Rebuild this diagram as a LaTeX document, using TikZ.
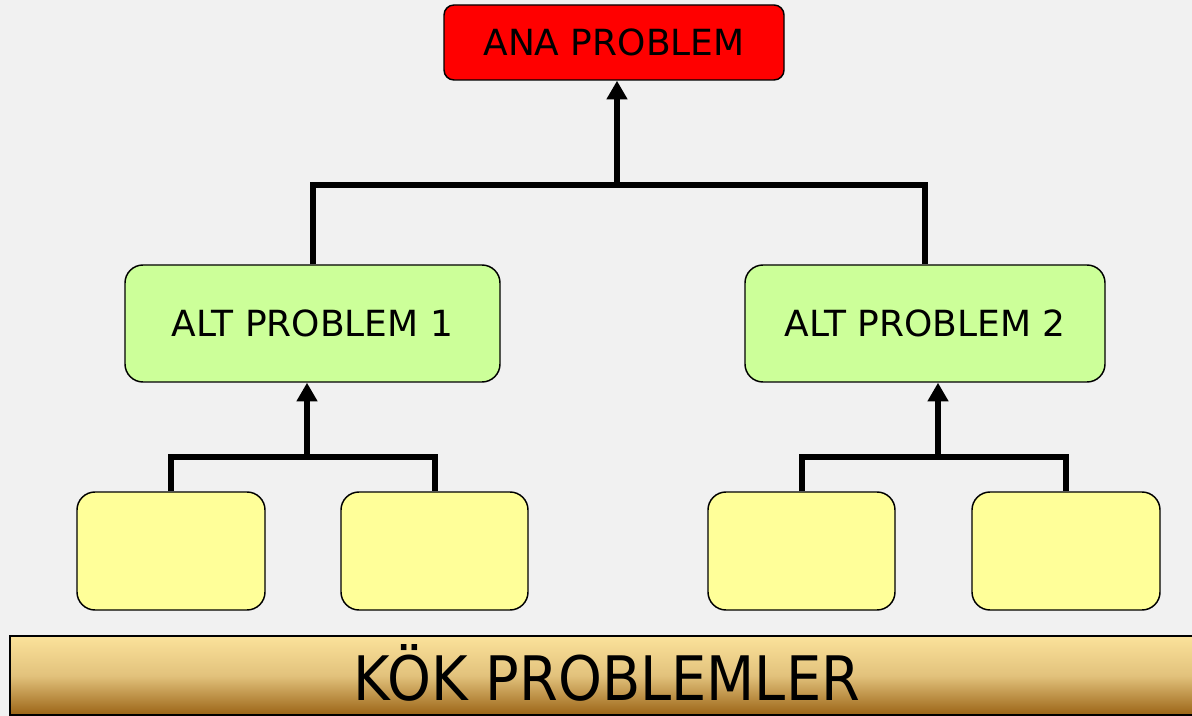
\documentclass[tikz,border=0pt]{standalone}
\usepackage{fontspec}
\setmainfont{DejaVu Sans}
\usetikzlibrary{arrows.meta}
\definecolor{bgc}{RGB}{241,241,241}
\definecolor{redc}{RGB}{255,0,0}
\definecolor{greenc}{RGB}{204,255,153}
\definecolor{yellowc}{RGB}{255,255,153}
\definecolor{bartop}{RGB}{251,226,155}
\definecolor{barmid}{RGB}{226,194,124}
\definecolor{barbot}{RGB}{155,100,22}
\tikzset{
  x=0.75pt, y=-0.75pt,
  boxbase/.style={draw=black, line width=1.1pt, inner sep=0pt, font=\fontsize{27}{32}\selectfont},
  anabox/.style={boxbase, fill=redc, rounded corners=7.5pt, minimum width=255pt, minimum height=56.25pt},
  altbox/.style={boxbase, fill=greenc, rounded corners=13.5pt, minimum height=87.75pt},
  leafbox/.style={boxbase, fill=yellowc, rounded corners=13.5pt, minimum width=141pt, minimum height=88.5pt},
  barbox/.style={draw=black, line width=1.5pt, top color=bartop, bottom color=barbot, middle color=barmid, minimum width=892.5pt, minimum height=59.25pt, inner sep=0pt},
  conn/.style={line width=4.5pt},
  arr/.style={line width=4.5pt, -{Triangle[length=14pt,width=15pt]}},
}
\begin{document}
\begin{tikzpicture}
\fill[bgc] (0,0) rectangle (1192,716);
\useasboundingbox (0,0) rectangle (1192,716);

\node[anabox] (ana) at (614,42.5) {\raisebox{-2pt}{ANA PROBLEM}};
\node[altbox, minimum width=281.25pt] (alt1) at (312.5,323.5) {ALT PROBLEM 1};
\node[altbox, minimum width=270pt] (alt2) at (925,323.5) {ALT PROBLEM 2};

\node[leafbox] (y1) at (171,551) {};
\node[leafbox, minimum width=140.25pt] (y2) at (434.5,551) {};
\node[leafbox, minimum width=140.25pt] (y3) at (801.5,551) {};
\node[leafbox] (y4) at (1066,551) {};

\node[barbox] (bar) at (605,675.5) {};
\node[anchor=base, font=\fontsize{46}{52}\selectfont, xscale=0.91] (kok) at (607,700) {KÖK PROBLEMLER};

\coordinate (j1) at (617,185);
\coordinate (j2) at (307,457);
\coordinate (j3) at (938,457);

\draw[conn] (alt1.north) |- (j1) -| (alt2.north);
\draw[arr] (j1) -- (j1 |- ana.south);

\draw[conn] (y1.north) |- (j2) -| (y2.north);
\draw[arr] (j2) -- (j2 |- alt1.south);

\draw[conn] (y3.north) |- (j3) -| (y4.north);
\draw[arr] (j3) -- (j3 |- alt2.south);
\end{tikzpicture}
\end{document}
